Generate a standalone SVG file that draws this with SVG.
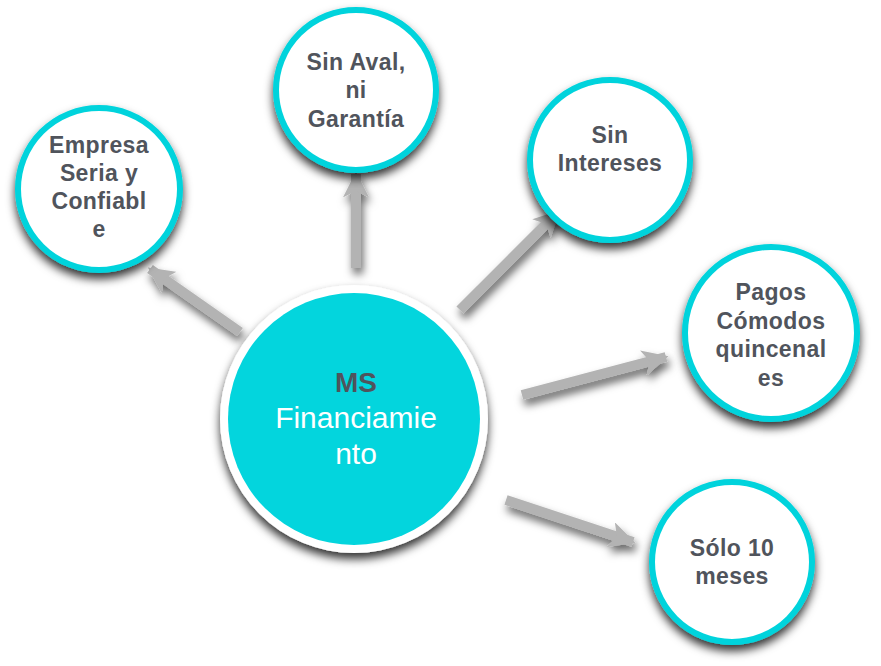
<svg xmlns="http://www.w3.org/2000/svg" width="881" height="666" viewBox="0 0 881 666">
<defs>
<filter id="sh" x="-30%" y="-30%" width="160%" height="170%">
<feDropShadow dx="0" dy="6" stdDeviation="5" flood-color="#000" flood-opacity="0.8"/>
</filter>
<filter id="ash" x="-30%" y="-30%" width="160%" height="160%">
<feDropShadow dx="2" dy="6" stdDeviation="4" flood-color="#000" flood-opacity="0.6"/>
</filter>
<marker id="ah" viewBox="0 0 10 10" refX="9" refY="5" markerWidth="2.6" markerHeight="2.6" orient="auto" markerUnits="strokeWidth">
<path d="M0,0 L10,5 L0,10 L2.5,5 Z" fill="#b3b3b3"/>
</marker>
</defs>
<style>
.n{fill:#fff;stroke:#03d3dc;stroke-width:6}
.t{font-family:"Liberation Sans",Arial,sans-serif;font-weight:bold;font-size:23px;letter-spacing:0.4px;fill:#50545c;text-anchor:middle}
.a{stroke:#b3b3b3;stroke-width:10;fill:none;marker-end:url(#ah)}
</style>
<rect width="881" height="666" fill="#fff"/>
<g id="connectors" filter="url(#ash)">
<line class="a" x1="240" y1="332" x2="150" y2="269"/>
<line class="a" x1="356" y1="268" x2="356" y2="174"/>
<line class="a" x1="460" y1="310" x2="558" y2="212"/>
<line class="a" x1="522" y1="395" x2="666" y2="357"/>
<line class="a" x1="506" y1="500" x2="633" y2="542"/>
</g>
<g id="center">
<circle cx="354" cy="419" r="134" fill="#fff" filter="url(#sh)"/>
<circle cx="354" cy="419" r="126" fill="#03d5dd"/>
<text x="356" y="392" font-family="Liberation Sans,Arial,sans-serif" font-weight="bold" font-size="28" fill="#50545c" text-anchor="middle">MS</text>
<text x="356" y="428" font-family="Liberation Sans,Arial,sans-serif" font-size="30" fill="#fff" text-anchor="middle">Financiamie</text>
<text x="356" y="464" font-family="Liberation Sans,Arial,sans-serif" font-size="30" fill="#fff" text-anchor="middle">nto</text>
</g>
<g id="empresa">
<circle class="n" cx="99" cy="189" r="81" filter="url(#sh)"/>
<text class="t" x="99" y="153">Empresa</text>
<text class="t" x="99" y="181">Seria y</text>
<text class="t" x="99" y="209">Confiabl</text>
<text class="t" x="99" y="237">e</text>
</g>
<g id="sinaval">
<circle class="n" cx="356" cy="90" r="80" filter="url(#sh)"/>
<text class="t" x="356" y="70">Sin Aval,</text>
<text class="t" x="356" y="98">ni</text>
<text class="t" x="356" y="127">Garantía</text>
</g>
<g id="sinintereses">
<circle class="n" cx="610" cy="160" r="80" filter="url(#sh)"/>
<text class="t" x="610" y="143">Sin</text>
<text class="t" x="610" y="171">Intereses</text>
</g>
<g id="pagos">
<circle class="n" cx="771" cy="333" r="86" filter="url(#sh)"/>
<text class="t" x="771" y="300">Pagos</text>
<text class="t" x="771" y="329">Cómodos</text>
<text class="t" x="771" y="357">quincenal</text>
<text class="t" x="771" y="386">es</text>
</g>
<g id="solo">
<circle class="n" cx="732" cy="562" r="80" filter="url(#sh)"/>
<text class="t" x="732" y="556">Sólo 10</text>
<text class="t" x="732" y="584">meses</text>
</g>
</svg>
